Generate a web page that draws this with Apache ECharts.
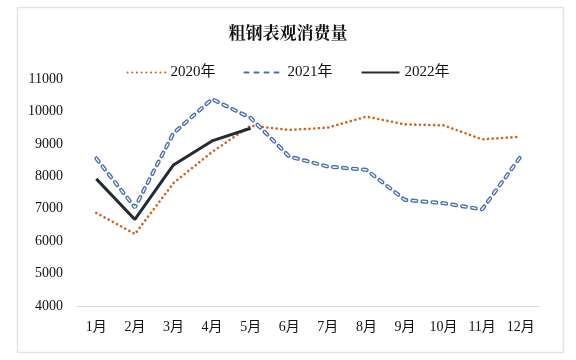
<!DOCTYPE html>
<html>
<head>
<meta charset="utf-8">
<script src="https://cdn.jsdelivr.net/npm/echarts@6/dist/echarts.min.js"></script>
<style>
html,body{margin:0;padding:0;background:#fff;}
#c{width:576px;height:360px;}
</style>
</head>
<body>
<div id="c"></div>
<script>
var titleText = '粗钢表观消费量';
var categories = ['1月','2月','3月','4月','5月','6月','7月','8月','9月','10月','11月','12月'];
var seriesNames = ['2020年','2021年','2022年'];
var data2020 = [6870, 6220, 7790, 8750, 9560, 9430, 9500, 9840, 9600, 9570, 9140, 9220];
var data2021 = [8550, 7040, 9330, 10380, 9800, 8610, 8300, 8200, 7270, 7170, 6980, 8610];
var data2022 = [7920, 6670, 8350, 9090, 9480];
var yMin = 4000, yMax = 11000, yStep = 1000;

var FONT = '"Liberation Serif","Times New Roman","Noto Sans CJK SC",serif';
var chart = echarts.init(document.getElementById('c'), null, {renderer:'canvas'});
chart.setOption({
  animation:false,
  backgroundColor:'#fff',
  graphic:[{
    type:'rect', left:15, top:5, shape:{width:546, height:345},
    style:{fill:'none', stroke:'#e3e3e3', lineWidth:1.5}, silent:true
  }],
  title:{
    text:titleText, left:'center', top:19,
    textStyle:{fontFamily:'"Noto Serif CJK SC","Noto Sans CJK SC",serif', fontWeight:'bold', fontSize:17, color:'#111'}
  },
  legend:{
    data:seriesNames, top:60, left:'center', itemWidth:38, itemHeight:12, itemGap:28,
    itemStyle:{opacity:0},
    textStyle:{fontFamily:FONT, fontSize:15, color:'#111'}
  },
  grid:{left:77, right:36, top:79, bottom:54, containLabel:false},
  xAxis:{
    type:'category', data:categories, boundaryGap:true,
    axisLine:{lineStyle:{color:'#d9d9d9', width:1}},
    axisTick:{show:false},
    axisLabel:{fontFamily:FONT, fontSize:14, color:'#111', margin:14, interval:0}
  },
  yAxis:{
    type:'value', min:yMin, max:yMax, interval:yStep,
    axisLine:{show:false}, axisTick:{show:false}, splitLine:{show:false},
    axisLabel:{fontFamily:FONT, fontSize:14, color:'#111', margin:14, formatter:function(v){return String(v);}}
  },
  series:[
    {name:seriesNames[0], type:'line', data:data2020, symbol:'none',
     lineStyle:{color:'#D0651E', width:2.6, type:[0.1,4.6], cap:'round'}, itemStyle:{color:'#D0651E'}, z:2},
    {name:seriesNames[1], type:'line', data:data2021, symbol:'none',
     lineStyle:{color:'#4A6FB0', width:4, type:[4,6], cap:'round'}, itemStyle:{color:'#4A6FB0'}, z:3},
    {name:seriesNames[1]+'_inner', type:'line', data:data2021, symbol:'none',
     lineStyle:{color:'#ffffff', width:1.3, type:[4,6], cap:'round'}, z:4, silent:true},
    {name:seriesNames[2], type:'line', data:data2022, symbol:'none',
     lineStyle:{color:'#262B33', width:3}, itemStyle:{color:'#262B33'}, z:5}
  ]
});
</script>
</body>
</html>
